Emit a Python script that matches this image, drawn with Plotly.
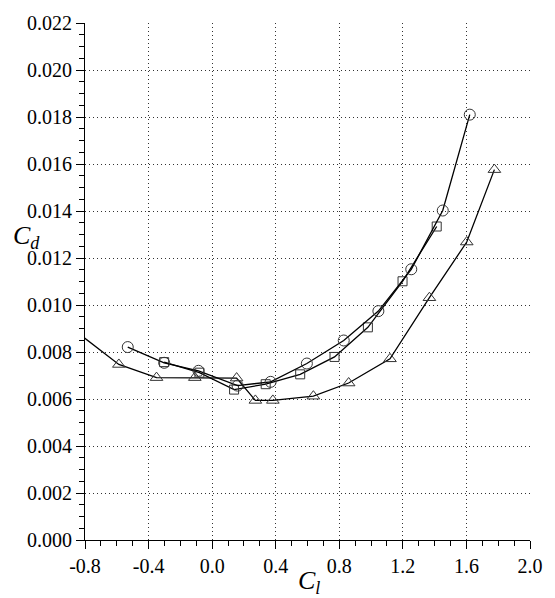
import plotly.graph_objects as go

# Data
cl_circle = [-0.531, -0.302, -0.086, 0.160, 0.368, 0.596, 0.828, 1.046, 1.253, 1.451, 1.621]
cd_circle = [0.00821, 0.00754, 0.00720, 0.00657, 0.00673, 0.00751, 0.00849, 0.00974, 0.01152, 0.01402, 0.01810]

cl_square = [-0.302, -0.080, 0.138, 0.337, 0.554, 0.770, 0.980, 1.198, 1.413]
cd_square = [0.00757, 0.00712, 0.00640, 0.00663, 0.00705, 0.00779, 0.00905, 0.01101, 0.01334]

cl_tri = [-0.90, -0.587, -0.350, -0.109, 0.154, 0.272, 0.382, 0.637, 0.859, 1.119, 1.367, 1.602, 1.776]
cd_tri = [0.00910, 0.00747, 0.00691, 0.00691, 0.00689, 0.00594, 0.00594, 0.00612, 0.00668, 0.00771, 0.01031, 0.01268, 0.01576]

x_tickvals = [-0.8, -0.4, 0.0, 0.4, 0.8, 1.2, 1.6, 2.0]
x_ticktext = ["-0.8", "-0.4", "0.0", "0.4", "0.8", "1.2", "1.6", "2.0"]
y_tickvals = [0.000, 0.002, 0.004, 0.006, 0.008, 0.010, 0.012, 0.014, 0.016, 0.018, 0.020, 0.022]
y_ticktext = ["0.000", "0.002", "0.004", "0.006", "0.008", "0.010", "0.012", "0.014",
              "0.016", "0.018", "0.020", "0.022"]

FONT = "Liberation Serif"

fig = go.Figure()

series = [
    (cl_tri, cd_tri, "triangle-up-open", 11),
    (cl_square, cd_square, "square-open", 9),
    (cl_circle, cd_circle, "circle-open", 11),
]
for xs, ys, sym, sz in series:
    fig.add_trace(go.Scatter(
        x=xs, y=ys, mode="lines+markers",
        line=dict(color="black", width=1.3),
        marker=dict(symbol=sym, size=sz, color="#333333", line=dict(width=1, color="#333333")),
        showlegend=False,
    ))

fig.update_layout(
    width=555, height=598,
    margin=dict(l=85, r=19, t=15, b=58),
    paper_bgcolor="white", plot_bgcolor="white",
)

for ax, rng, tv, tt, mdt, m0 in [
    ("xaxis", [-0.8, 2.0], x_tickvals, x_ticktext, 0.1, -0.8),
    ("yaxis", [0, 0.022], y_tickvals, y_ticktext, 0.0005, 0),
]:
    fig.layout[ax].update(
        range=rng, tickmode="array", tickvals=tv, ticktext=tt,
        showline=True, linecolor="black", linewidth=1.2,
        ticks="outside", ticklen=8, tickwidth=1.2, tickcolor="black",
        showgrid=True, gridcolor="#333333", griddash="1px,3px", gridwidth=1,
        zeroline=False, mirror=False,
        tickfont=dict(family=FONT, size=20, color="black"),
        minor=dict(dtick=mdt, tick0=m0, ticks="outside", ticklen=5, tickwidth=1.2,
                   tickcolor="black", showgrid=False),
    )

fig.add_annotation(
    text="<i>C<sub>d</sub></i>", xref="paper", yref="paper",
    x=-0.132, y=0.587, xanchor="center", yanchor="middle", showarrow=False,
    font=dict(family=FONT, size=26, color="black"),
)
fig.add_annotation(
    text="<i>C<sub>l</sub></i>", xref="paper", yref="paper",
    x=0.504, y=-0.082, xanchor="center", yanchor="middle", showarrow=False,
    font=dict(family=FONT, size=26, color="black"),
)

fig.write_html("out.html")
